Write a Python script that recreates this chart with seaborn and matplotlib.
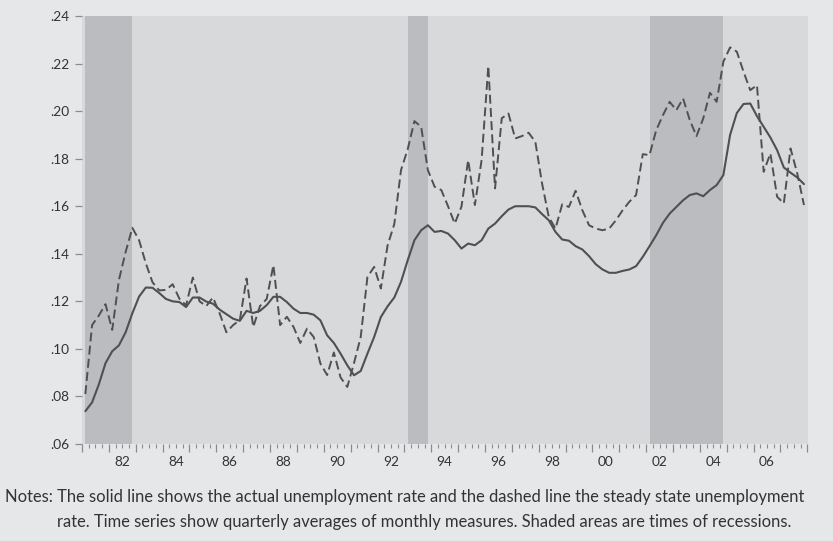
import numpy as np
import pandas as pd
import matplotlib
matplotlib.use("Agg")
import matplotlib.pyplot as plt
import seaborn as sns

# ---------------- data (quarterly, 1981Q1 - 2007Q4) ----------------
start_year = 1981
actual_rate = [
    0.0738, 0.0775, 0.0850, 0.0940, 0.0990, 0.1015, 0.1070, 0.1150, 0.1220, 0.1258,
    0.1257, 0.1235, 0.1210, 0.1200, 0.1197, 0.1176, 0.1216, 0.1216, 0.1199, 0.1190,
    0.1165, 0.1146, 0.1127, 0.1118, 0.1160, 0.1151, 0.1160, 0.1184, 0.1219, 0.1219,
    0.1197, 0.1169, 0.1151, 0.1151, 0.1144, 0.1120, 0.1057, 0.1025, 0.0980, 0.0931,
    0.0889, 0.0907, 0.0980, 0.1050, 0.1134, 0.1179, 0.1216, 0.1282, 0.1373, 0.1457,
    0.1499, 0.1520, 0.1492, 0.1496, 0.1485, 0.1457, 0.1422, 0.1443, 0.1436, 0.1457,
    0.1506, 0.1527, 0.1558, 0.1586, 0.1600, 0.1600, 0.1600, 0.1595, 0.1567, 0.1541,
    0.1492, 0.1460, 0.1455, 0.1432, 0.1418, 0.1390, 0.1356, 0.1334, 0.1320, 0.1320,
    0.1328, 0.1334, 0.1348, 0.1387, 0.1432, 0.1478, 0.1530, 0.1569, 0.1597, 0.1625,
    0.1647, 0.1654, 0.1642, 0.1668, 0.1689, 0.1731, 0.1900, 0.1992, 0.2030, 0.2032,
    0.1979, 0.1934, 0.1889, 0.1836, 0.1763, 0.1741, 0.1721, 0.1693,
]
steady_state_rate = [
    0.0810, 0.1100, 0.1140, 0.1188, 0.1080, 0.1290, 0.1408, 0.1509, 0.1457, 0.1360,
    0.1280, 0.1246, 0.1248, 0.1272, 0.1211, 0.1183, 0.1300, 0.1200, 0.1180, 0.1216,
    0.1149, 0.1070, 0.1100, 0.1121, 0.1296, 0.1092, 0.1180, 0.1210, 0.1352, 0.1100,
    0.1135, 0.1092, 0.1025, 0.1085, 0.1050, 0.0938, 0.0890, 0.0985, 0.0880, 0.0840,
    0.0940, 0.1050, 0.1302, 0.1345, 0.1254, 0.1435, 0.1525, 0.1752, 0.1840, 0.1958,
    0.1934, 0.1752, 0.1682, 0.1668, 0.1600, 0.1527, 0.1598, 0.1794, 0.1605, 0.1794,
    0.2190, 0.1675, 0.1970, 0.1990, 0.1885, 0.1895, 0.1909, 0.1871, 0.1696, 0.1555,
    0.1506, 0.1608, 0.1597, 0.1665, 0.1583, 0.1520, 0.1506, 0.1499, 0.1506, 0.1541,
    0.1583, 0.1619, 0.1647, 0.1819, 0.1815, 0.1920, 0.1983, 0.2039, 0.2004, 0.2053,
    0.1962, 0.1895, 0.1969, 0.2077, 0.2039, 0.2208, 0.2268, 0.2250, 0.2166, 0.2088,
    0.2109, 0.1745, 0.1822, 0.1640, 0.1612, 0.1843, 0.1738, 0.1605,
]
recession_starts = [1981.0, 1993.0, 2002.0]
recession_ends = [1982.75, 1993.75, 2004.75]
y_ticks = [0.06, 0.08, 0.10, 0.12, 0.14, 0.16, 0.18, 0.20, 0.22, 0.24]
label_years = [1982, 1984, 1986, 1988, 1990, 1992, 1994, 1996, 1998, 2000, 2002, 2004, 2006]
notes_line1 = ("Notes: The solid line shows the actual unemployment rate and the dashed line "
               "the steady state unemployment")
notes_line2 = ("rate. Time series show quarterly averages of monthly measures. "
               "Shaded areas are times of recessions.")

n = len(actual_rate)
dates = start_year + np.arange(n) / 4.0
df = pd.DataFrame({"date": dates, "actual": actual_rate, "steady": steady_state_rate})

# ---------------- style ----------------
fig_bg = "#e6e7e9"
ax_bg = "#d8d9db"
rec_col = "#bbbcbf"
line_col = "#505052"
tick_col = "#8c8c8e"
text_col = "#333333"

sns.set_theme(style="white")
plt.rcParams["font.family"] = ["Lato", "DejaVu Sans"]

fig = plt.figure(figsize=(8.33, 5.41), dpi=100, facecolor=fig_bg)
ax = fig.add_axes([82 / 833, 97 / 541, (808 - 82) / 833, (444 - 16) / 541])
ax.set_facecolor(ax_bg)

for s, e in zip(recession_starts, recession_ends):
    ax.axvspan(s, e, color=rec_col, lw=0, zorder=0)

sns.lineplot(data=df, x="date", y="actual", ax=ax, color=line_col, lw=1.5, zorder=3)
sns.lineplot(data=df, x="date", y="steady", ax=ax, color=line_col, lw=1.4,
             dashes=False, zorder=3).lines[-1].set_dashes((4.6, 2.2))

ax.set_xlim(1980.875, 2007.9)
ax.set_ylim(0.06, 0.24)
ax.set_xlabel("")
ax.set_ylabel("")
for sp in ax.spines.values():
    sp.set_visible(False)

# y axis
ax.set_yticks(y_ticks)
ax.set_yticklabels([f"{v:.2f}"[1:] for v in y_ticks])
ax.tick_params(axis="y", direction="out", length=5, width=0.9, color=tick_col,
               pad=4, labelsize=9.8, labelcolor=text_col, left=True)

# x axis: year ticks (long), quarter ticks (short), labels centred on year
year_ticks = np.arange(start_year, 2009) - 0.125
quarter_ticks = np.arange(start_year - 0.125, 2008.0, 0.25)
ax.set_xticks(year_ticks)
ax.set_xticklabels([])
ax.set_xticks(quarter_ticks, minor=True)
ax.tick_params(axis="x", which="major", direction="out", length=6, width=0.9,
               color=tick_col, bottom=True)
ax.tick_params(axis="x", which="minor", direction="out", length=3, width=0.8,
               color=tick_col, bottom=True)

sec = ax.secondary_xaxis("bottom")
sec.set_xticks([y + 0.375 for y in label_years])
sec.set_xticklabels([f"{y % 100:02d}" for y in label_years])
sec.tick_params(length=0, pad=9, labelsize=9.8, labelcolor=text_col)
for sp in sec.spines.values():
    sp.set_visible(False)

fig.text(5 / 833, 1 - 497 / 541, notes_line1, fontsize=11.9, color=text_col,
         ha="left", va="center")
fig.text(57 / 833, 1 - 522 / 541, notes_line2, fontsize=11.9, color=text_col,
         ha="left", va="center")

fig.savefig("out.png", dpi=100, facecolor=fig_bg)
